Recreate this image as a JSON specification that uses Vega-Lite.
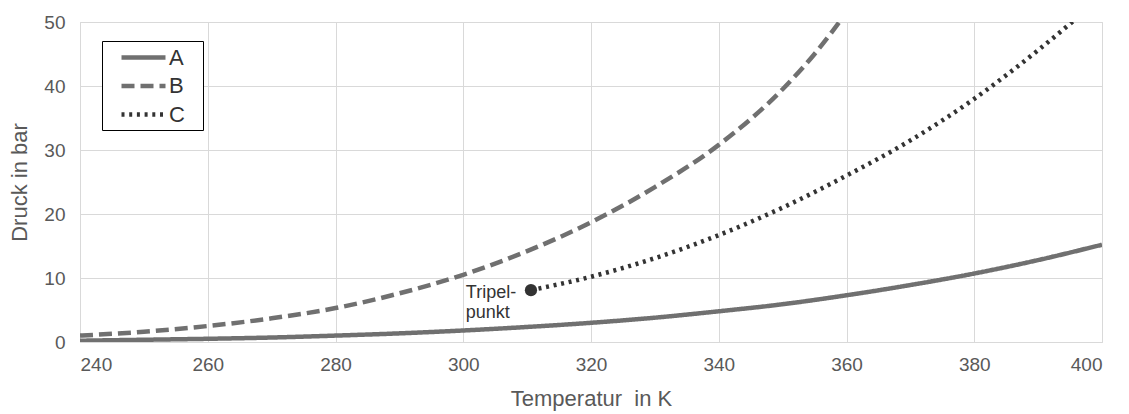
{
  "$schema": "https://vega.github.io/schema/vega-lite/v6.json",
  "width": 1022,
  "height": 320,
  "autosize": "none",
  "padding": {"left": 80, "top": 22, "right": 27, "bottom": 72},
  "background": "white",
  "config": {
    "font": "Liberation Sans",
    "view": {"stroke": "#d9d9d9", "strokeWidth": 1},
    "axis": {
      "gridColor": "#d9d9d9",
      "gridWidth": 1,
      "domain": false,
      "ticks": false,
      "labelColor": "#595959",
      "titleColor": "#595959",
      "labelFontSize": 19,
      "titleFontSize": 22,
      "titleFontWeight": "normal"
    }
  },
  "datasets": {
    "curves": [
      {"T": 240, "p": 0.2, "s": "A"}, {"T": 250, "p": 0.35, "s": "A"}, {"T": 260, "p": 0.5, "s": "A"},
      {"T": 270, "p": 0.7, "s": "A"}, {"T": 280, "p": 1.0, "s": "A"}, {"T": 290, "p": 1.35, "s": "A"},
      {"T": 300, "p": 1.8, "s": "A"}, {"T": 310, "p": 2.35, "s": "A"}, {"T": 320, "p": 3.0, "s": "A"},
      {"T": 330, "p": 3.8, "s": "A"}, {"T": 340, "p": 4.8, "s": "A"}, {"T": 350, "p": 5.9, "s": "A"},
      {"T": 360, "p": 7.3, "s": "A"}, {"T": 370, "p": 8.9, "s": "A"}, {"T": 380, "p": 10.7, "s": "A"},
      {"T": 390, "p": 12.8, "s": "A"}, {"T": 400, "p": 15.2, "s": "A"},
      {"T": 240, "p": 1.0, "s": "B"}, {"T": 250, "p": 1.6, "s": "B"}, {"T": 260, "p": 2.5, "s": "B"},
      {"T": 270, "p": 3.7, "s": "B"}, {"T": 280, "p": 5.3, "s": "B"}, {"T": 290, "p": 7.6, "s": "B"},
      {"T": 300, "p": 10.5, "s": "B"}, {"T": 310, "p": 14.2, "s": "B"}, {"T": 320, "p": 18.7, "s": "B"},
      {"T": 330, "p": 24.2, "s": "B"}, {"T": 340, "p": 30.8, "s": "B"}, {"T": 350, "p": 39.5, "s": "B"},
      {"T": 355, "p": 45.0, "s": "B"}, {"T": 360, "p": 51.5, "s": "B"},
      {"T": 310.6, "p": 8.1, "s": "C"}, {"T": 320, "p": 10.2, "s": "C"}, {"T": 330, "p": 13.1, "s": "C"},
      {"T": 340, "p": 16.7, "s": "C"}, {"T": 350, "p": 21.0, "s": "C"}, {"T": 360, "p": 26.0, "s": "C"},
      {"T": 370, "p": 31.5, "s": "C"}, {"T": 380, "p": 38.0, "s": "C"}, {"T": 390, "p": 45.6, "s": "C"},
      {"T": 400, "p": 54.0, "s": "C"}
    ],
    "triple": [{"T": 310.6, "p": 8.1}],
    "label": [{"T": 300.4, "p": 6.9, "t": ["Tripel-", "punkt"]}]
  },
  "encoding": {
    "x": {"field": "T", "type": "quantitative", "scale": {"domain": [240, 400], "nice": false},
      "axis": {"values": [240, 260, 280, 300, 320, 340, 360, 380, 400], "title": "Temperatur\u00a0 in K", "labelPadding": 13, "titlePadding": 14}},
    "y": {"field": "p", "type": "quantitative", "scale": {"domain": [0, 50], "nice": false},
      "axis": {"values": [0, 10, 20, 30, 40, 50], "title": "Druck in bar", "labelPadding": 15, "titlePadding": 12}}
  },
  "layer": [
    {
      "data": {"name": "curves"},
      "mark": {"type": "line", "clip": true, "strokeCap": "butt", "interpolate": "monotone"},
      "encoding": {
        "color": {"field": "s", "type": "nominal", "scale": {"domain": ["A", "B", "C"], "range": ["#707070", "#707070", "#333333"]},
          "legend": {"title": "\u00a0", "titleOrient": "right", "titlePadding": 14, "titleFontSize": 10,
            "orient": "none", "legendX": 22, "legendY": 19, "strokeColor": "black", "fillColor": "white",
            "padding": 4, "labelFontSize": 22, "labelColor": "#333333", "symbolSize": 400, "symbolType": "M-2.2,0H2.2",
            "symbolOffset": 25, "labelOffset": 13, "rowPadding": 4.5}},
        "strokeDash": {"field": "s", "type": "nominal", "scale": {"domain": ["A", "B", "C"], "range": [[1, 0], [13, 6], [3, 4.7]]}, "legend": null},
        "strokeWidth": {"field": "s", "type": "nominal", "scale": {"domain": ["A", "B", "C"], "range": [4.5, 4.5, 3.5]}, "legend": null}
      }
    },
    {
      "data": {"name": "triple"},
      "mark": {"type": "point", "filled": true, "shape": "circle", "size": 150, "color": "#333333", "opacity": 1},
      "encoding": {}
    },
    {
      "data": {"name": "label"},
      "mark": {"type": "text", "align": "left", "baseline": "alphabetic", "fontSize": 18, "lineHeight": 20, "color": "#333333"},
      "encoding": {"text": {"field": "t"}}
    }
  ]
}
